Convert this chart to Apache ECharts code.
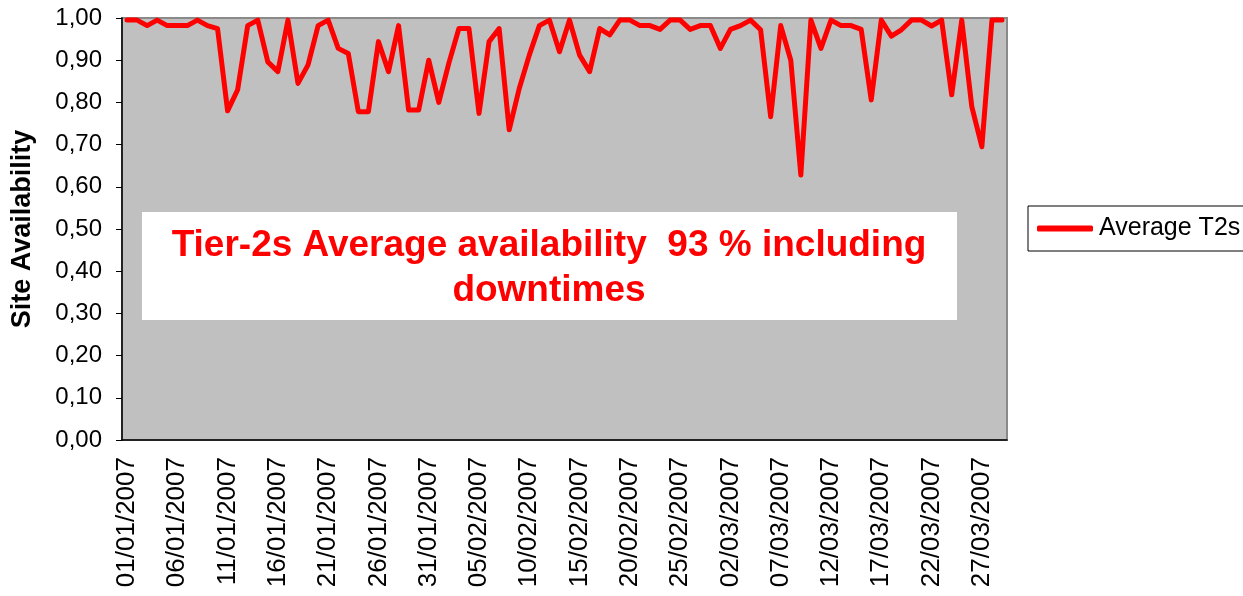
<!DOCTYPE html>
<html>
<head>
<meta charset="utf-8">
<title>Tier-2s site availability</title>
<script src="https://cdn.jsdelivr.net/npm/echarts@6.0.0/dist/echarts.min.js"></script>
<style>
  html, body { margin: 0; padding: 0; background: #fff; }
  #chart { width: 1243px; height: 596px; }
</style>
</head>
<body>
<div id="chart"></div>
<script>
// daily labels, 01/01/2007 .. 29/03/2007
const startDay = new Date(2007, 0, 1)
const dayCount = 88
const dates = []
for (let i = 0; i < dayCount; i++) {
  const d = new Date(startDay.getTime() + i * 86400000)
  const dd = String(d.getDate()).padStart(2, '0')
  const mm = String(d.getMonth() + 1).padStart(2, '0')
  dates.push(dd + '/' + mm + '/' + d.getFullYear())
}

// Average T2s availability
const avgT2s = [
  0.995, 0.995, 0.982, 0.995, 0.982, 0.982, 0.982, 0.995, 0.982, 0.975,
  0.780, 0.830, 0.982, 0.995, 0.896, 0.873, 0.995, 0.845, 0.889, 0.982,
  0.995, 0.928, 0.916, 0.778, 0.778, 0.944, 0.873, 0.982, 0.782, 0.782,
  0.900, 0.800, 0.893, 0.975, 0.975, 0.774, 0.944, 0.975, 0.735, 0.833,
  0.912, 0.982, 0.995, 0.920, 0.995, 0.912, 0.873, 0.975, 0.960, 0.995,
  0.995, 0.982, 0.982, 0.973, 0.995, 0.995, 0.973, 0.982, 0.982, 0.928,
  0.973, 0.982, 0.995, 0.972, 0.766, 0.982, 0.900, 0.628, 0.995, 0.928,
  0.995, 0.982, 0.982, 0.973, 0.806, 0.995, 0.957, 0.972, 0.995, 0.995,
  0.981, 0.995, 0.818, 0.995, 0.790, 0.695, 0.995, 0.995
]

const yTicks = [0, 0.1, 0.2, 0.3, 0.4, 0.5, 0.6, 0.7, 0.8, 0.9, 1.0]

const seriesName = 'Average T2s'
const noteText = 'Tier-2s Average availability  93 % including\ndowntimes'
const font = 'Liberation Sans, Arial, sans-serif'

const chart = echarts.init(document.getElementById('chart'))

chart.setOption({
  animation: false,
  textStyle: { fontFamily: font },
  grid: {
    left: 122, right: 236, top: 18, bottom: 156,
    show: true,
    backgroundColor: '#C0C0C0',
    borderColor: '#8a8a8a',
    borderWidth: 2
  },
  legend: {
    left: 1028, top: 206,
    orient: 'vertical',
    data: [seriesName],
    icon: 'roundRect',
    itemWidth: 56, itemHeight: 6,
    itemGap: 0,
    padding: [10, 30, 10, 9],
    borderColor: '#000', borderWidth: 1,
    backgroundColor: '#fff',
    textStyle: { fontSize: 25, color: '#000', fontFamily: font, padding: [0, 0, 0, 1] }
  },
  xAxis: {
    type: 'category',
    data: dates,
    boundaryGap: true,
    axisLine: { lineStyle: { color: '#000', width: 1.5 } },
    axisTick: { interval: 0, length: 6, lineStyle: { color: '#000' } },
    axisLabel: {
      interval: 4,
      rotate: 90,
      fontSize: 26,
      color: '#000',
      margin: 17
    },
    splitLine: { show: false }
  },
  yAxis: {
    type: 'value',
    min: yTicks[0], max: yTicks[yTicks.length - 1], interval: 0.1,
    name: 'Site Availability',
    nameLocation: 'middle',
    nameRotate: 90,
    nameGap: 86,
    nameTextStyle: { fontSize: 27, fontWeight: 'bold', color: '#000' },
    axisLine: { show: true, lineStyle: { color: '#000', width: 1.5 } },
    axisTick: { show: true, length: 6, lineStyle: { color: '#000' } },
    axisLabel: {
      fontSize: 24,
      color: '#000',
      margin: 20,
      formatter: v => v.toFixed(2).replace('.', ',')
    },
    splitLine: { show: false }
  },
  series: [{
    name: seriesName,
    type: 'line',
    data: avgT2s,
    symbol: 'none',
    color: '#FF0000',
    lineStyle: { width: 5, color: '#FF0000', join: 'round', cap: 'round' }
  }],
  graphic: [{
    type: 'group',
    children: [
      {
        type: 'rect',
        shape: { x: 142, y: 212, width: 815, height: 108 },
        style: { fill: '#fff' }
      },
      {
        type: 'text',
        x: 549, y: 223,
        style: {
          text: noteText,
          fill: '#FF0000',
          font: 'bold 37px ' + font,
          align: 'center',
          lineHeight: 45
        }
      }
    ]
  }]
})
</script>
</body>
</html>
